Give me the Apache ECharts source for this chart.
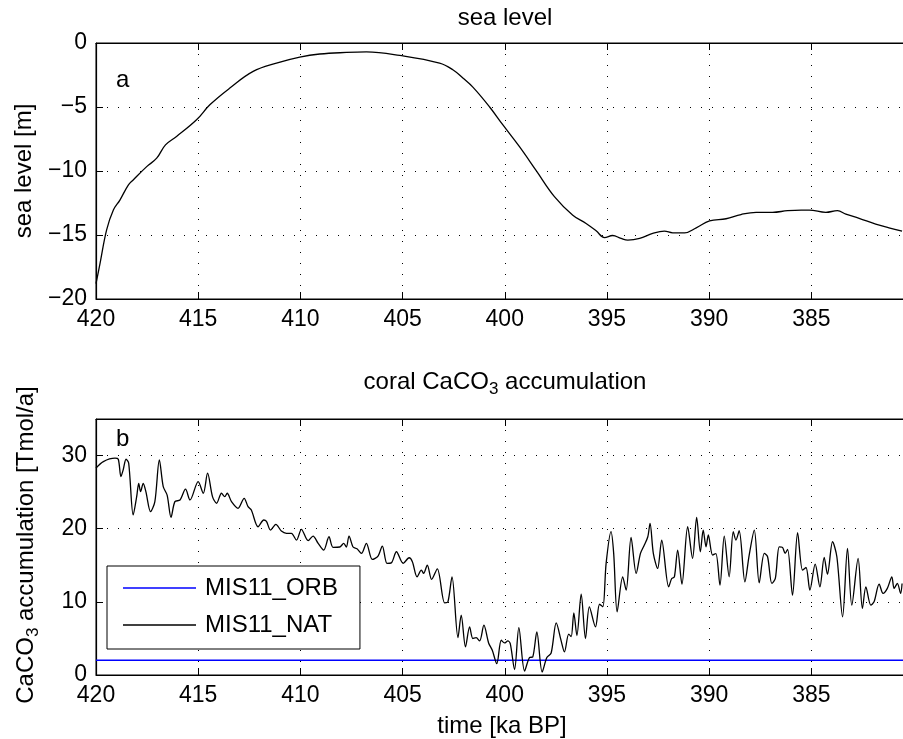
<!DOCTYPE html>
<html>
<head>
<meta charset="utf-8">
<script src="https://cdn.jsdelivr.net/npm/echarts@6.0.0/dist/echarts.min.js"></script>
<style>
  html, body { margin: 0; padding: 0; background: #fff; }
  #chart { width: 903px; height: 739px; }
</style>
</head>
<body>
<div id="chart"></div>
<script>
// panel a: sea level (m), time in ka BP
const seaTime = [420, 419.8, 419.48, 419.15, 418.83, 418.42, 418.18, 417.52, 417.03, 416.6, 416.06, 415.08,
  414.43, 413.45, 412.31, 411.17, 410.03, 409.05, 407.75, 406.77, 405.14, 403.19, 402.54, 402.05, 401.56,
  400.74, 400.09, 399.28, 398.46, 397.57, 396.67, 396.02, 395.53, 395.12, 394.72, 394.31, 393.98, 393.4,
  392.76, 392.19, 391.78, 391.2, 390.63, 389.98, 389.17, 388.44, 387.7, 386.9, 386.16, 385.5, 385.1,
  384.29, 383.72, 383.31, 382.66, 381.85, 381.2, 380.56];
const seaLevel = [-18.8, -17.2, -14.6, -13.05, -12.27, -11.1, -10.7, -9.66, -9.0, -7.96, -7.3, -6.0,
  -4.83, -3.52, -2.22, -1.57, -1.1, -0.86, -0.74, -0.7, -0.97, -1.57, -2.09, -2.74, -3.45,
  -5.0, -6.4, -8.1, -9.97, -12.0, -13.45, -14.1, -14.67, -15.2, -15.04, -15.27, -15.4, -15.27,
  -14.88, -14.7, -14.83, -14.83, -14.44, -13.9, -13.73, -13.4, -13.23, -13.23, -13.1, -13.05, -13.05,
  -13.23, -13.1, -13.37, -13.7, -14.15, -14.44, -14.7];

// panel b: coral CaCO3 accumulation (Tmol/a)
const natTime = [420, 419.64, 419.07, 418.91, 418.78, 418.67, 418.53, 418.4, 418.18, 418.01, 417.91, 417.82,
  417.69, 417.56, 417.33, 417.12, 416.9, 416.71, 416.52, 416.33, 416.14, 415.89, 415.62, 415.4, 415.0,
  414.75, 414.54, 414.3, 414.1, 413.86, 413.7, 413.58, 413.37, 413.05, 412.75, 412.56, 412.4, 412.07,
  411.79, 411.66, 411.46, 411.2, 410.93, 410.68, 410.44, 410.19, 409.95, 409.62, 409.38, 409.13, 408.86,
  408.6, 408.4, 408.07, 407.88, 407.75, 407.62, 407.42, 407.23, 407.01, 406.77, 406.48, 406.2, 405.99,
  405.76, 405.55, 405.3, 404.97, 404.68, 404.52, 404.29, 404.08, 403.97, 403.79, 403.58, 403.3, 402.94,
  402.78, 402.58, 402.29, 402.13, 401.92, 401.72, 401.56, 401.4, 401.23, 401.02, 400.79, 400.61, 400.39,
  400.17, 400.01, 399.85, 399.73, 399.52, 399.31, 399.03, 398.79, 398.63, 398.43, 398.17, 397.94, 397.73,
  397.48, 397.24, 397.08, 396.87, 396.75, 396.62, 396.47, 396.26, 396.05, 395.86, 395.56, 395.36, 395.2,
  395.04, 394.8, 394.67, 394.5, 394.23, 394.06, 393.82, 393.57, 393.36, 393.17, 393.0, 392.89, 392.73,
  392.52, 392.32, 391.98, 391.83, 391.7, 391.54, 391.33, 391.05, 390.81, 390.61, 390.43, 390.29, 390.15,
  390.04, 389.83, 389.67, 389.47, 389.26, 389.02, 388.82, 388.69, 388.53, 388.25, 388.04, 387.79, 387.55,
  387.3, 387.14, 386.93, 386.76, 386.57, 386.41, 386.28, 386.16, 385.92, 385.67, 385.43, 385.26, 385.07,
  384.81, 384.58, 384.37, 384.21, 383.96, 383.75, 383.47, 383.23, 383.02, 382.71, 382.5, 382.33, 382.09,
  381.93, 381.68, 381.49, 381.28, 381.06, 380.95, 380.79, 380.63, 380.56];
const natAcc = [28.3, 29.18, 29.64, 29.5, 27.13, 28.04, 29.5, 28.95, 21.88, 24.38, 26.2, 25.07,
  26.2, 25.07, 22.33, 23.7, 29.41, 25.75, 24.6, 21.56, 23.7, 23.93, 25.4, 23.93, 26.44,
  24.85, 27.59, 24.38, 23.48, 24.85, 24.38, 24.85, 23.7, 22.79, 24.16, 23.01, 22.56, 20.27,
  21.19, 21.0, 19.82, 20.6, 19.68, 19.37, 19.37, 18.45, 19.9, 18.36, 19.0, 18.0, 17.08,
  18.9, 17.45, 17.5, 18.0, 17.5, 19.0, 17.5, 17.27, 16.63, 18.0, 15.8, 16.26, 17.63,
  15.26, 15.33, 16.85, 15.26, 16.03, 15.5, 13.42, 14.34, 13.9, 15.03, 13.07, 14.52, 9.86,
  9.99, 13.42, 5.12, 8.18, 3.84, 6.58, 4.99, 5.1, 4.66, 6.81, 4.38, 3.38, 1.56,
  4.75, 4.38, 4.66, 4.3, 0.74, 6.49, 0.55, 2.38, 2.47, 5.89, 0.41, 2.38, 3.01,
  7.12, 4.66, 3.15, 5.58, 5.25, 8.49, 5.4, 11.05, 4.99, 9.32, 6.58, 9.68, 9.32,
  15.26, 19.59, 16.63, 8.63, 13.42, 11.6, 18.82, 13.89, 16.63, 17.77, 18.9, 20.74, 16.63,
  14.57, 18.45, 12.05, 13.2, 13.4, 17.08, 12.42, 20.27, 15.95, 21.56, 16.85, 19.82, 17.53,
  19.14, 16.4, 16.6, 12.29, 19.0, 13.42, 19.59, 18.45, 19.72, 12.74, 16.4, 19.82, 12.6,
  16.63, 16.17, 12.52, 13.2, 17.53, 17.45, 16.63, 17.18, 10.92, 19.45, 14.34, 14.7, 11.6,
  15.16, 12.05, 16.08, 13.79, 18.22, 16.17, 7.95, 17.31, 9.55, 15.95, 9.1, 12.05, 9.55,
  10.0, 12.42, 11.15, 11.84, 13.42, 11.84, 12.52, 11.15, 12.52];
const orbTime = [420, 380];
const orbAcc = [2.0, 2.0];

const xTicks = [420, 415, 410, 405, 400, 395, 390, 385];

const zip = (xs, ys) => xs.map((x, i) => [x, ys[i]]);

const FONT = "'Liberation Sans', Arial, sans-serif";
const gridLine = { show: true, lineStyle: { color: '#000', width: 1, type: [1, 10], opacity: 1 } };
const tick = { show: true, inside: true, length: 7, lineStyle: { color: '#000', width: 1 } };
const axisLine = { show: true, onZero: false, lineStyle: { color: '#000', width: 1.2 } };

const xAxisBase = (gridIndex) => ({
  type: 'value',
  gridIndex: gridIndex,
  inverse: true,
  min: 380,
  max: 420,
  interval: 5,
  axisLine: axisLine,
  axisTick: tick,
  splitLine: gridLine,
  axisLabel: {
    color: '#000', fontSize: 23, fontFamily: FONT, margin: 9,
    formatter: (v) => (xTicks.indexOf(v) >= 0 ? String(v) : '')
  }
});
const xAxisTop = (gridIndex) => ({
  type: 'value',
  gridIndex: gridIndex,
  position: 'top',
  inverse: true,
  min: 380,
  max: 420,
  interval: 5,
  axisLine: axisLine,
  axisTick: tick,
  axisLabel: { show: false },
  splitLine: { show: false }
});

const option = {
  animation: false,
  backgroundColor: '#fff',
  textStyle: { fontFamily: FONT },
  grid: [
    { left: 96, top: 43, width: 817.5, height: 256, outerBoundsMode: 'none', containLabel: false,
      show: true, borderColor: '#000', borderWidth: 1 },
    { left: 96, top: 419, width: 817.5, height: 256, outerBoundsMode: 'none', containLabel: false,
      show: true, borderColor: '#000', borderWidth: 1 }
  ],
  xAxis: [xAxisBase(0), xAxisBase(1), xAxisTop(0), xAxisTop(1)],
  yAxis: [
    {
      type: 'value', gridIndex: 0, min: -20, max: 0, interval: 5,
      axisLine: axisLine, axisTick: tick, splitLine: gridLine,
      axisLabel: {
        color: '#000', fontSize: 23, fontFamily: FONT, margin: 9,
        formatter: (v) => (v < 0 ? '\u2212' + Math.abs(v) : String(v))
      }
    },
    {
      type: 'value', gridIndex: 1, min: 0, max: 35, interval: 10,
      axisLine: axisLine, axisTick: tick, splitLine: gridLine,
      axisLabel: {
        color: '#000', fontSize: 23, fontFamily: FONT, margin: 9,
        formatter: (v) => (v > 30 ? '' : String(v))
      }
    }
  ],
  legend: {
    orient: 'vertical',
    left: 107,
    top: 566,
    padding: [9, 22, 11, 16],
    itemGap: 11,
    itemWidth: 73,
    itemHeight: 1.5,
    backgroundColor: '#fff',
    borderColor: '#000',
    borderWidth: 1,
    borderRadius: 0,
    textStyle: { color: '#000', fontSize: 24, fontFamily: FONT, lineHeight: 26, padding: [0, 0, 0, 4] },
    data: [
      { name: 'MIS11_ORB', icon: 'rect' },
      { name: 'MIS11_NAT', icon: 'rect' }
    ]
  },
  graphic: [
    { type: 'text', x: 505, y: 18.5,
      style: { text: 'sea level', fill: '#000', fontSize: 24, fontFamily: FONT, align: 'center', verticalAlign: 'middle' } },
    { type: 'text', x: 505, y: 382,
      style: {
        text: '{m|coral CaCO}{s|3}{m| accumulation}', fill: '#000', align: 'center', verticalAlign: 'middle',
        rich: {
          m: { fontSize: 24, fontFamily: FONT, lineHeight: 32, fill: '#000' },
          s: { fontSize: 17, fontFamily: FONT, lineHeight: 16, verticalAlign: 'bottom', fill: '#000' }
        }
      } },
    { type: 'text', x: 116, y: 80,
      style: { text: 'a', fill: '#000', fontSize: 24, fontFamily: FONT, align: 'left', verticalAlign: 'middle' } },
    { type: 'text', x: 116, y: 439,
      style: { text: 'b', fill: '#000', fontSize: 24, fontFamily: FONT, align: 'left', verticalAlign: 'middle' } },
    { type: 'text', x: 502, y: 726,
      style: { text: 'time [ka BP]', fill: '#000', fontSize: 24, fontFamily: FONT, align: 'center', verticalAlign: 'middle' } },
    { type: 'text', x: 24, y: 171, rotation: Math.PI / 2,
      style: { text: 'sea level [m]', fill: '#000', fontSize: 24, fontFamily: FONT, align: 'center', verticalAlign: 'middle' } },
    { type: 'text', x: 26, y: 545, rotation: Math.PI / 2,
      style: {
        text: '{m|CaCO}{s|3}{m| accumulation [Tmol/a]}', fill: '#000', align: 'center', verticalAlign: 'middle',
        rich: {
          m: { fontSize: 24, fontFamily: FONT, lineHeight: 32, fill: '#000' },
          s: { fontSize: 17, fontFamily: FONT, lineHeight: 16, verticalAlign: 'bottom', fill: '#000' }
        }
      } }
  ],
  series: [
    {
      name: 'sea level', type: 'line', xAxisIndex: 0, yAxisIndex: 0,
      data: zip(seaTime, seaLevel), showSymbol: false, smooth: 0.4,
      lineStyle: { color: '#000', width: 1.3 }, itemStyle: { color: '#000' }
    },
    {
      name: 'MIS11_ORB', type: 'line', xAxisIndex: 1, yAxisIndex: 1,
      data: zip(orbTime, orbAcc), showSymbol: false,
      lineStyle: { color: '#0000ff', width: 1.5 }, itemStyle: { color: '#0000ff' }
    },
    {
      name: 'MIS11_NAT', type: 'line', xAxisIndex: 1, yAxisIndex: 1,
      data: zip(natTime, natAcc), showSymbol: false, smooth: 0.3,
      lineStyle: { color: '#000', width: 1.3 }, itemStyle: { color: '#000' }
    }
  ]
};

const chart = echarts.init(document.getElementById('chart'), null, { renderer: 'canvas' });
chart.setOption(option);
</script>
</body>
</html>
